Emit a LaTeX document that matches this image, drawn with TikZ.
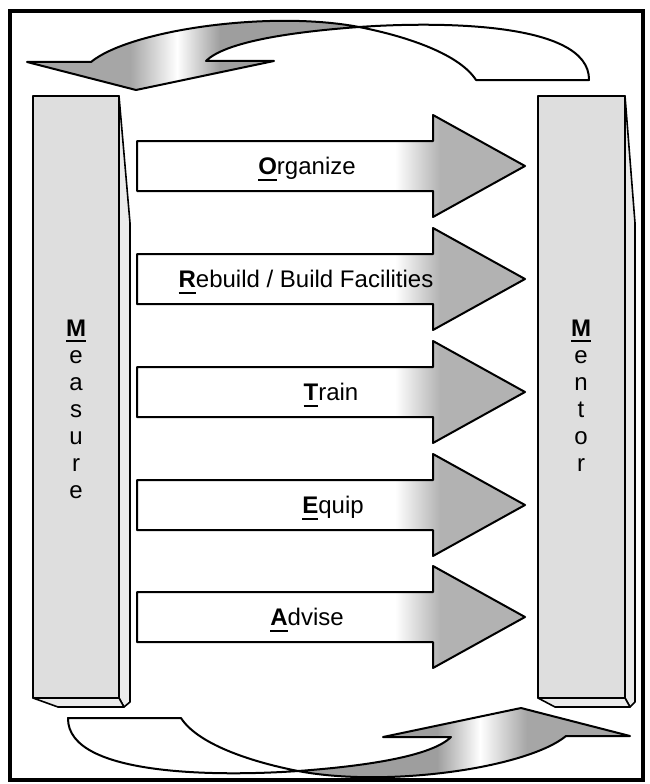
\documentclass[tikz,border=0pt]{standalone}
\usepackage{fontspec}
\setmainfont{Liberation Sans}
\newcommand\ulb[1]{\setbox0\hbox{\textbf{#1}}\rlap{\rule[-6pt]{\wd0}{2pt}}\box0}
\newcommand\harrow[4]{%
\begin{scope}[shift={(0,#1)}]
 \begin{scope}
  \clip (137,-25) -- (433,-25) -- (433,-51) -- (525,0) -- (433,51) -- (433,25) -- (137,25) -- cycle;
  \fill[white] (130,-55) rectangle (395,55);
  \shade[left color=white, right color=black!30] (395,-55) rectangle (440,55);
  \fill[black!30] (440,-55) rectangle (530,55);
 \end{scope}
 \draw[outl] (137,-25) -- (433,-25) -- (433,-51) -- (525,0) -- (433,51) -- (433,25) -- (137,25) -- cycle;
 \node[lbl, anchor=base] (#2) at (#3,8.5) {#4};
\end{scope}}
\newcommand\ribbon[1]{%
 \begin{scope}
 \clip (91,62) -- (27,62) -- (136,90) -- (274,61) -- (206,61) .. controls (225,42) and (290,32) .. (359,27) .. controls (270,10) and (130,30) .. (91,62) -- cycle;
 \fill[black!35] (20,0) rectangle (130,100);
 \shade[left color=black!35, right color=white, shading angle=#1] (130,0) rectangle (177,100);
 \shade[left color=white, right color=black!38, shading angle=#1] (177,0) rectangle (220,100);
 \fill[black!38] (220,0) rectangle (370,100);
 \end{scope}
 \draw[outl] (91,62) -- (27,62) -- (136,90) -- (274,61) -- (206,61) .. controls (225,42) and (290,32) .. (359,27) .. controls (430,22) and (590,20) .. (589,80) -- (476,80) .. controls (460,55) and (410,37) .. (359,27) .. controls (270,10) and (130,30) .. (91,62) -- cycle;
}
\begin{document}
\begin{tikzpicture}[x=1pt,y=-1pt,line join=round,
 outl/.style={draw=black, line width=2pt},
 pfront/.style={fill=black!13, draw=black, line width=2pt},
 pside/.style={fill=black!8, draw=black, line width=1.6pt},
 lbl/.style={font=\fontsize{24}{28}\selectfont, inner sep=0pt}]
\useasboundingbox (0,0) rectangle (649,784);
\fill[white] (0,0) rectangle (649,784);
\draw[line width=4.5pt, line join=miter] (10,11) rectangle (643,780);

% left pillar
\draw[pside] (119,96) -- (130,223) -- (130,702) -- (124,707) -- (119,698) -- cycle;
\draw[pside] (33,698) -- (119,698) -- (124,707) -- (58,707) -- cycle;
\draw[pfront] (33,96) rectangle (119,698);
% right pillar
\draw[pside] (625,96) -- (635,223) -- (635,702) -- (630,707) -- (625,698) -- cycle;
\draw[pside] (538,698) -- (625,698) -- (630,707) -- (555,707) -- cycle;
\draw[pfront] (538,96) rectangle (625,698);

% pillar letters
\node[lbl, anchor=base] (ms1) at (76,336) {\ulb{M}};
\node[lbl, anchor=base] (ms2) at (76,363) {e};
\node[lbl, anchor=base] (ms3) at (76,390) {a};
\node[lbl, anchor=base] (ms4) at (76,417) {s};
\node[lbl, anchor=base] (ms5) at (76,444) {u};
\node[lbl, anchor=base] (ms6) at (76,471) {r};
\node[lbl, anchor=base] (ms7) at (76,498) {e};
\node[lbl, anchor=base] (mt1) at (581,336) {\ulb{M}};
\node[lbl, anchor=base] (mt2) at (581,363) {e};
\node[lbl, anchor=base] (mt3) at (581,390) {n};
\node[lbl, anchor=base] (mt4) at (581,417) {t};
\node[lbl, anchor=base] (mt5) at (581,444) {o};
\node[lbl, anchor=base] (mt6) at (581,471) {r};

% horizontal arrows
\harrow{166}{org}{307}{\ulb{O}rganize}
\harrow{279}{reb}{306}{\ulb{R}ebuild / Build Facilities}
\harrow{392}{trn}{331}{\ulb{T}rain}
\harrow{505}{eqp}{333}{\ulb{E}quip}
\harrow{617}{adv}{307}{\ulb{A}dvise}

% curved ribbons
\ribbon{90}
\begin{scope}[rotate around={180:(328.5,399)}]
\ribbon{270}
\end{scope}
\end{tikzpicture}
\end{document}
